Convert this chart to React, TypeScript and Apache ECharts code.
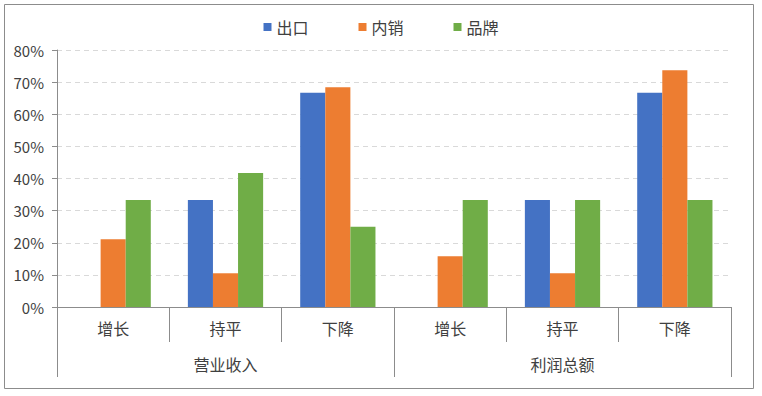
import React, { useEffect, useRef } from "react";
import * as echarts from "echarts";

const subCategories = ["增长", "持平", "下降", "增长", "持平", "下降"];
const groupCategories = ["营业收入", "利润总额"];
const seriesNames = ["出口", "内销", "品牌"];
const exportValues = [0, 33.3, 66.7, 0, 33.3, 66.7];
const domesticValues = [21.1, 10.5, 68.4, 15.8, 10.5, 73.7];
const brandValues = [33.3, 41.7, 25.0, 33.3, 33.3, 33.3];
const colors = ["#4472C4", "#ED7D31", "#70AD47"];

const FONT = "'Noto Sans CJK SC', 'Noto Sans', sans-serif";

export default function App() {
  const ref = useRef<HTMLDivElement>(null);
  useEffect(() => {
    document.body.style.margin = "0";
    const chart = echarts.init(ref.current!, undefined, { renderer: "svg" });
    const axisColor = "#8c8c8c";
    chart.setOption({
      animation: false,
      textStyle: { fontFamily: FONT },
      color: colors,
      legend: {
        top: 14,
        left: "center",
        itemWidth: 8,
        itemHeight: 8,
        itemGap: 50,
        icon: "rect",
        textStyle: { fontSize: 16, color: "#404040", fontFamily: FONT },
        data: seriesNames,
      },
      grid: { left: 57, right: 31, top: 50, bottom: 89, containLabel: false },
      xAxis: [
        {
          type: "category",
          data: subCategories,
          position: "bottom",
          axisLine: { show: true, lineStyle: { color: axisColor } },
          axisTick: { show: true, interval: 0, length: 35, lineStyle: { color: axisColor } },
          axisLabel: { interval: 0, margin: 13, fontSize: 16, color: "#404040", fontFamily: FONT },
        },
        {
          type: "category",
          data: groupCategories,
          position: "bottom",
          axisLine: { show: false },
          axisTick: { show: true, interval: 0, length: 70, lineStyle: { color: axisColor } },
          axisLabel: { interval: 0, margin: 49, fontSize: 16, color: "#404040", fontFamily: FONT },
          splitLine: { show: false },
        },
      ],
      yAxis: {
        type: "value",
        min: 0,
        max: 80,
        interval: 10,
        axisLine: { show: true, lineStyle: { color: axisColor } },
        axisTick: { show: true, length: 5, lineStyle: { color: axisColor } },
        axisLabel: { formatter: "{value}%", fontSize: 15, color: "#404040", margin: 13, fontFamily: FONT },
        splitLine: { show: true, lineStyle: { color: "#d9d9d9", type: [5, 4] } },
      },
      series: [
        { name: seriesNames[0], type: "bar", data: exportValues, barGap: "0%", barCategoryGap: "33%", xAxisIndex: 0 },
        { name: seriesNames[1], type: "bar", data: domesticValues, barGap: "0%", barCategoryGap: "33%", xAxisIndex: 0 },
        { name: seriesNames[2], type: "bar", data: brandValues, barGap: "0%", barCategoryGap: "33%", xAxisIndex: 0 },
      ],
      graphic: [
        {
          type: "rect",
          shape: { x: 4.5, y: 4.5, width: 749, height: 384 },
          style: { fill: "none", stroke: axisColor, lineWidth: 1 },
          silent: true,
        },
      ],
    });
    return () => chart.dispose();
  }, []);
  return <div ref={ref} style={{ width: 762, height: 396 }} />;
}
